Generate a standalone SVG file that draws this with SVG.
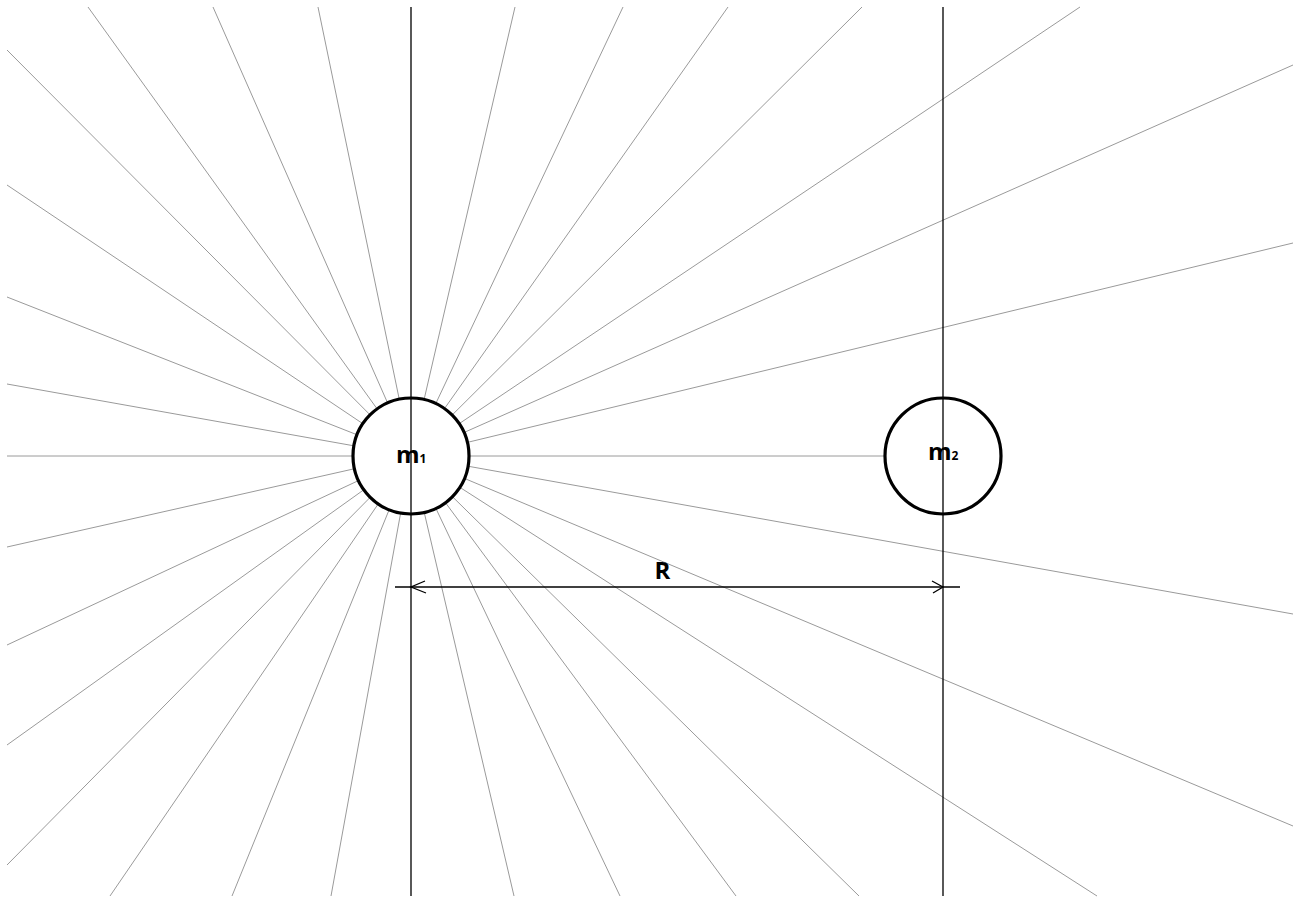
<svg xmlns="http://www.w3.org/2000/svg" width="1301" height="903" viewBox="0 0 1301 903">
<style>
.ray{stroke:#9a9a9a;stroke-width:1;fill:none}
.axis{stroke:#000;stroke-width:1.3;fill:none}
.mass{fill:#fff;stroke:#000;stroke-width:3.2}
.lbl{font-family:"Open Sans","Liberation Sans",sans-serif;font-weight:700;fill:#000}
</style>
<rect x="0" y="0" width="1301" height="903" fill="#fff"/>
<g id="rays">
<path class="ray" d="M411 456L88 7M411 456L213 7M411 456L318 7M411 456L515 7M411 456L623 7M411 456L728 7M411 456L862 7M411 456L1080 7"/>
<path class="ray" d="M411 456L1293 65M411 456L1293 243M411 456L1293 614M411 456L1293 826"/>
<path class="ray" d="M411 456L1097 896M411 456L859 896M411 456L736 896M411 456L620 896M411 456L514 896M411 456L331 896M411 456L232 896M411 456L110 896"/>
<path class="ray" d="M411 456L7 865M411 456L7 745M411 456L7 645M411 456L7 547M411 456L7 456M411 456L7 384M411 456L7 297M411 456L7 185M411 456L7 50"/>
<path class="ray" d="M411 456L884 456"/>
</g>
<g id="m1">
<circle class="mass" cx="411" cy="456" r="58"/>
</g>
<g id="m2">
<circle class="mass" cx="943" cy="456" r="58"/>
</g>
<g id="connectors">
<path class="axis" d="M411 7V896M943 7V896"/>
<path class="axis" d="M395 587H960"/>
<path class="axis" d="M425 581L411 587L426 593M932 581L943 587L933 593"/>
</g>
<g id="labels">
<text class="lbl" x="396" y="463" font-size="24">m<tspan font-size="12">1</tspan></text>
<text class="lbl" x="928" y="460" font-size="24">m<tspan font-size="12">2</tspan></text>
<text class="lbl" x="662.5" y="579" font-size="24" text-anchor="middle">R</text>
</g>
</svg>
